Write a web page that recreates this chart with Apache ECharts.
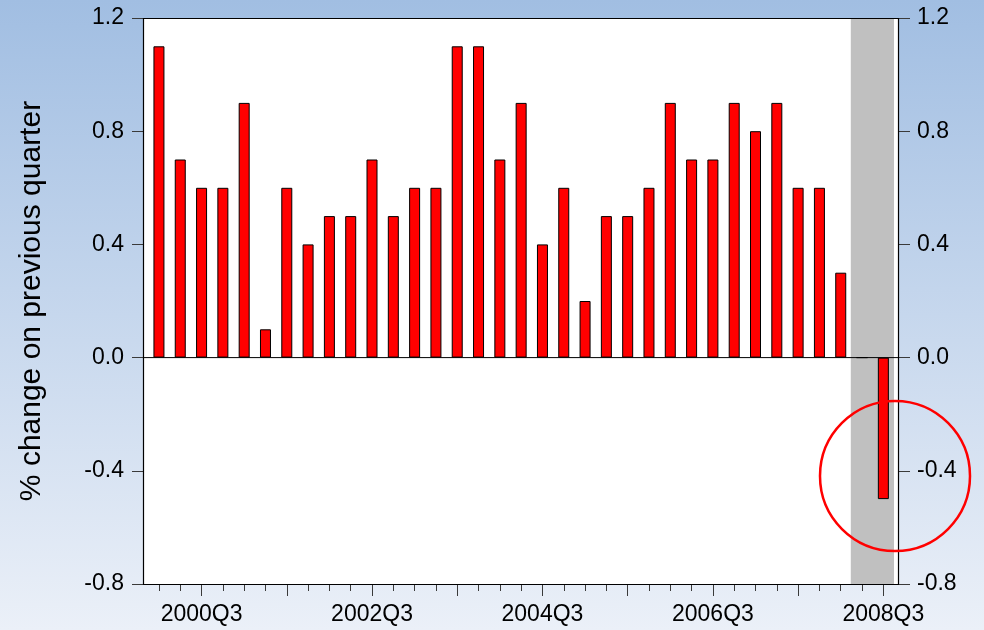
<!DOCTYPE html>
<html>
<head>
<meta charset="utf-8">
<script src="https://cdn.jsdelivr.net/npm/echarts@6/dist/echarts.min.js"></script>
<style>
  html, body { margin: 0; padding: 0; }
  #main {
    width: 984px;
    height: 630px;
    background: linear-gradient(to bottom, #a1bee2 0%, #c6d7ed 50%, #ebf0f8 100%);
  }
</style>
</head>
<body>
<div id="main"></div>
<script>
// quarters 2000Q1 .. 2008Q3
const quarters = [];
for (let y = 2000; y <= 2008; y++) {
  for (let q = 1; q <= 4; q++) {
    if (y === 2008 && q > 3) break;
    quarters.push(y + 'Q' + q);
  }
}
// % change on previous quarter
const growth = [
  1.1, 0.7, 0.6, 0.6, 0.9, 0.1, 0.6, 0.4, 0.5, 0.5, 0.7, 0.5,
  0.6, 0.6, 1.1, 1.1, 0.7, 0.9, 0.4, 0.6, 0.2, 0.5, 0.5, 0.6,
  0.9, 0.7, 0.7, 0.9, 0.8, 0.9, 0.6, 0.6, 0.3, 0.0, -0.5,
];
// shaded quarters
const shaded = ['2008Q2', '2008Q3'];
const yMin = -0.8;
const yMax = 1.2;

const shadeTop = quarters.map((c) => (shaded.includes(c) ? yMax : null));
const shadeBottom = quarters.map((c) => (shaded.includes(c) ? yMin : null));

const font = 'Liberation Sans, Arial, sans-serif';
const tickColor = '#3a3a3a';

const yAxisBase = {
  type: 'value',
  min: yMin,
  max: yMax,
  interval: 0.4,
  splitLine: { show: false },
  axisLine: { show: false },
};

const option = {
  animation: false,
  grid: [
    // bars
    { left: 148.3, right: 90, top: 18, bottom: 46, outerBoundsMode: 'none' },
    // frame
    { left: 143, right: 85, top: 18, bottom: 46, outerBoundsMode: 'none', show: true, backgroundColor: '#fff', borderWidth: 0 },
  ],
  xAxis: [
    {
      type: 'category',
      gridIndex: 0,
      position: 'bottom',
      data: quarters,
      axisLine: { show: false, onZero: false },
      axisTick: { show: true, alignWithLabel: true, interval: 0, length: 7, lineStyle: { color: tickColor } },
      axisLabel: { show: false },
    },
    {
      type: 'category',
      gridIndex: 0,
      position: 'bottom',
      data: quarters,
      axisLine: { show: false, onZero: false },
      axisTick: {
        show: true,
        alignWithLabel: true,
        interval: (i) => (i - 2) % 4 === 0,
        length: 12,
        lineStyle: { color: tickColor },
      },
      axisLabel: {
        interval: (i) => (i - 2) % 8 === 0,
        fontSize: 23,
        fontFamily: font,
        color: '#000',
        margin: 19,
      },
    },
    { type: 'value', gridIndex: 1, min: 0, max: 1, show: false },
  ],
  yAxis: [
    { ...yAxisBase, gridIndex: 0, show: false },
    {
      ...yAxisBase,
      gridIndex: 1,
      position: 'left',
      axisTick: { show: true, length: 11, lineStyle: { color: tickColor } },
      axisLabel: { fontSize: 23, fontFamily: font, color: '#000', margin: 19, formatter: (v) => v.toFixed(1) },
      name: '% change on previous quarter',
      nameLocation: 'middle',
      nameGap: 96,
      nameTextStyle: { fontSize: 30, fontFamily: font, color: '#000' },
    },
    {
      ...yAxisBase,
      gridIndex: 1,
      position: 'right',
      axisTick: { show: true, length: 11, lineStyle: { color: tickColor } },
      axisLabel: { fontSize: 23, fontFamily: font, color: '#000', margin: 18, formatter: (v) => v.toFixed(1) },
    },
  ],
  series: [
    // grey shading (slightly wider than a band so the two quarters join)
    {
      type: 'bar', xAxisIndex: 1, yAxisIndex: 0, stack: 'shade', barWidth: 22.5,
      data: shadeTop, itemStyle: { color: '#c0c0c0', borderWidth: 0 }, z: 1, silent: true,
    },
    {
      type: 'bar', xAxisIndex: 1, yAxisIndex: 0, stack: 'shade', barWidth: 22.5,
      data: shadeBottom, itemStyle: { color: '#c0c0c0', borderWidth: 0 }, z: 1, silent: true,
    },
    {
      type: 'bar', xAxisIndex: 0, yAxisIndex: 0, barWidth: 11,
      data: growth,
      itemStyle: { color: '#ff0000', borderColor: '#000', borderWidth: 1 },
      z: 2,
    },
    // zero line
    {
      type: 'line', xAxisIndex: 2, yAxisIndex: 1,
      data: [[0, 0], [1, 0]], symbol: 'none',
      lineStyle: { color: '#000', width: 1 }, z: 3, silent: true,
    },
  ],
  graphic: [
    // plot frame
    {
      type: 'rect', z: 100, silent: true,
      shape: { x: 143.5, y: 18.5, width: 755, height: 566 },
      style: { fill: 'none', stroke: '#000', lineWidth: 1.2 },
    },
    // red circle
    {
      type: 'circle', z: 100, silent: true,
      shape: { cx: 895, cy: 476, r: 75 },
      style: { fill: 'none', stroke: '#ff0000', lineWidth: 2.5 },
    },
  ],
};

const myChart = echarts.init(document.getElementById('main'));
myChart.setOption(option);
</script>
</body>
</html>
